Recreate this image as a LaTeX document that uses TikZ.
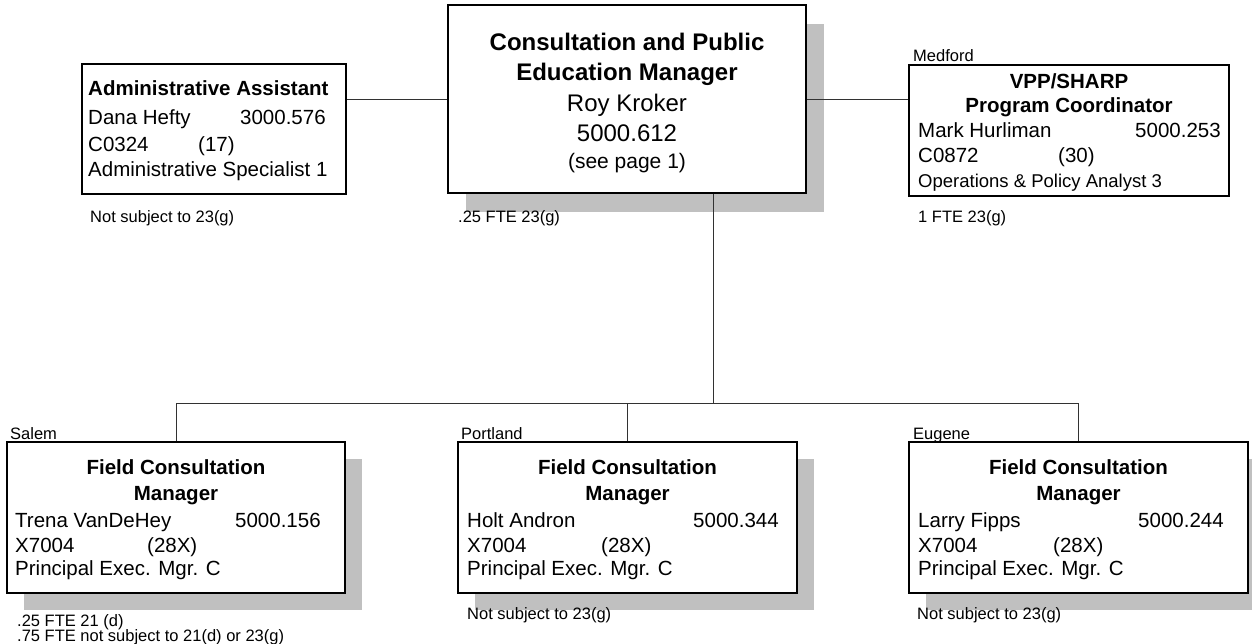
\documentclass[tikz,border=0pt]{standalone}
\usepackage{fontspec}
\setmainfont{Liberation Sans}
\usetikzlibrary{shadows}
\definecolor{shadowgray}{RGB}{192,192,192}
\definecolor{wiregray}{RGB}{50,50,50}
% type sizes used in the chart
\newcommand\orghead{\fontsize{24}{28}\selectfont\bfseries}
\newcommand\orgheadrm{\fontsize{24}{28}\selectfont}
\newcommand\orgnote{\fontsize{21}{24}\selectfont}
\newcommand\orgtitle{\fontsize{20.5}{24}\selectfont\bfseries}
\newcommand\orgbody{\fontsize{20.5}{24}\selectfont}
\newcommand\orgsmallbody{\fontsize{18.5}{22}\selectfont}
\newcommand\orgsmall{\fontsize{16.5}{19}\selectfont}
\begin{document}
\begin{tikzpicture}[x=1pt,y=-1pt,
  orgbox/.style={draw=black, line width=1.3pt, fill=white, rectangle, inner sep=0pt},
  shadowbig/.style={drop shadow={shadow xshift=18pt, shadow yshift=-19pt, fill=shadowgray, opacity=1}},
  shadowsmall/.style={drop shadow={shadow xshift=17pt, shadow yshift=-17pt, fill=shadowgray, opacity=1}},
  wire/.style={draw=wiregray, line width=0.9pt},
  ln/.style={inner sep=0pt, anchor=base west},
  lnc/.style={inner sep=0pt, anchor=base},
  tag/.style={inner sep=0pt, anchor=base west, font=\orgsmall}]
\useasboundingbox (0,0) rectangle (1252,644);

% boxes
\node[orgbox, shadowbig, minimum width=358pt, minimum height=188pt] (top) at (627,99) {};
\node[orgbox, minimum width=264pt, minimum height=130pt] (admin) at (214,129) {};
\node[orgbox, minimum width=320pt, minimum height=131pt] (vpp) at (1069,130.5) {};
\node[orgbox, shadowsmall, minimum width=338pt, minimum height=151pt] (salem) at (176,517.5) {};
\node[orgbox, shadowsmall, minimum width=339pt, minimum height=151pt] (portland) at (627.5,517.5) {};
\node[orgbox, shadowsmall, minimum width=339pt, minimum height=151pt] (eugene) at (1078.5,517.5) {};

% connectors
\coordinate (bus) at (713,403);
\draw[wire] (top.west) -- (top.west -| admin.east);
\draw[wire] (top.east) -- (top.east -| vpp.west);
\draw[wire] (top.south -| bus) -- (bus);
\draw[wire] (salem.north) -- (salem.north |- bus) -- (eugene.north |- bus) -- (eugene.north);
\draw[wire] (portland.north) -- (portland.north |- bus);

% manager
\node[lnc, font=\orghead] (topa) at (627,51) {Consultation and Public};
\node[lnc, font=\orghead] (topb) at (627,81) {Education Manager};
\node[lnc, font=\orgheadrm] (topc) at (627,112) {Roy Kroker};
\node[lnc, font=\orgheadrm] (topd) at (627,142) {5000.612};
\node[lnc, font=\orgnote] (tope) at (627,169) {(see page 1)};
\node[tag] (topf) at (458,223) {.25 FTE 23(g)};

% administrative assistant
\node[ln, font=\orgtitle] (adma) at (88,96) {Administrative Assistant};
\node[ln, font=\orgbody] (admb) at (88,125) {Dana Hefty};
\node[ln, font=\orgbody] (admc) at (240,125) {3000.576};
\node[ln, font=\orgbody] (admd) at (88,152) {C0324};
\node[ln, font=\orgbody] (adme) at (198,152) {(17)};
\node[ln, font=\orgbody] (admf) at (88,177) {Administrative Specialist 1};
\node[tag] (admg) at (90,223) {Not subject to 23(g)};

% program coordinator
\node[tag] (vppz) at (913,61.5) {Medford};
\node[lnc, font=\orgtitle] (vppa) at (1069,89) {VPP/SHARP};
\node[lnc, font=\orgtitle] (vppb) at (1069,113) {Program Coordinator};
\node[ln, font=\orgbody] (vppc) at (918,138) {Mark Hurliman};
\node[ln, font=\orgbody] (vppd) at (1135,138) {5000.253};
\node[ln, font=\orgbody] (vppe) at (918,163) {C0872};
\node[ln, font=\orgbody] (vppf) at (1058,163) {(30)};
\node[ln, font=\orgsmallbody] (vppg) at (918,188) {Operations \& Policy Analyst 3};
\node[tag] (vpph) at (918,223) {1 FTE 23(g)};

% field consultation managers
\node[tag] (slmz) at (10,439) {Salem};
\node[lnc, font=\orgtitle] (slma) at (176,474) {Field Consultation};
\node[lnc, font=\orgtitle] (slmb) at (176,500) {Manager};
\node[ln, font=\orgbody] (slmc) at (15,527) {Trena VanDeHey};
\node[ln, font=\orgbody] (slmd) at (235,527) {5000.156};
\node[ln, font=\orgbody] (slme) at (15,552) {X7004};
\node[ln, font=\orgbody] (slmf) at (147,552) {(28X)};
\node[ln, font=\orgbody] (slmg) at (15,575) {Principal Exec. Mgr. C};
\node[tag] (slmh) at (17,626) {.25 FTE 21 (d)};
\node[tag] (slmi) at (17,641) {.75 FTE not subject to 21(d) or 23(g)};

\node[tag] (ptlz) at (461,439) {Portland};
\node[lnc, font=\orgtitle] (ptla) at (627.5,474) {Field Consultation};
\node[lnc, font=\orgtitle] (ptlb) at (627.5,500) {Manager};
\node[ln, font=\orgbody] (ptlc) at (467,527) {Holt Andron};
\node[ln, font=\orgbody] (ptld) at (693,527) {5000.344};
\node[ln, font=\orgbody] (ptle) at (467,552) {X7004};
\node[ln, font=\orgbody] (ptlf) at (601,552) {(28X)};
\node[ln, font=\orgbody] (ptlg) at (467,575) {Principal Exec. Mgr. C};
\node[tag] (ptlh) at (467,619) {Not subject to 23(g)};

\node[tag] (eugz) at (913,439) {Eugene};
\node[lnc, font=\orgtitle] (euga) at (1078.5,474) {Field Consultation};
\node[lnc, font=\orgtitle] (eugb) at (1078.5,500) {Manager};
\node[ln, font=\orgbody] (eugc) at (918,527) {Larry Fipps};
\node[ln, font=\orgbody] (eugd) at (1138,527) {5000.244};
\node[ln, font=\orgbody] (euge) at (918,552) {X7004};
\node[ln, font=\orgbody] (eugf) at (1053,552) {(28X)};
\node[ln, font=\orgbody] (eugg) at (918,575) {Principal Exec. Mgr. C};
\node[tag] (eugh) at (917,619) {Not subject to 23(g)};
\end{tikzpicture}
\end{document}
